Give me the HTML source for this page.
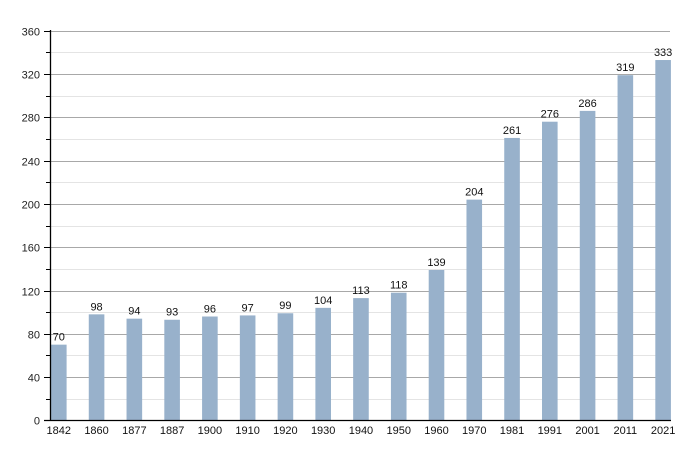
<!DOCTYPE html>
<html><head><meta charset="utf-8"><style>
html,body{margin:0;padding:0;background:#fff;}
svg{display:block;font-family:"Liberation Sans",Arial,sans-serif;}
</style></head><body>
<svg width="700" height="450" viewBox="0 0 700 450" xmlns="http://www.w3.org/2000/svg">
<rect width="700" height="450" fill="#fff"/>
<g stroke="#e4e4e4" stroke-width="1">
<line x1="50" x2="670" y1="399.5" y2="399.5"/>
<line x1="50" x2="670" y1="355.5" y2="355.5"/>
<line x1="50" x2="670" y1="312.5" y2="312.5"/>
<line x1="50" x2="670" y1="269.5" y2="269.5"/>
<line x1="50" x2="670" y1="226.5" y2="226.5"/>
<line x1="50" x2="670" y1="182.5" y2="182.5"/>
<line x1="50" x2="670" y1="139.5" y2="139.5"/>
<line x1="50" x2="670" y1="96.5" y2="96.5"/>
<line x1="50" x2="670" y1="52.5" y2="52.5"/>
</g>
<g stroke="#a8a8a8" stroke-width="1">
<line x1="50" x2="670" y1="377.5" y2="377.5"/>
<line x1="50" x2="670" y1="334.5" y2="334.5"/>
<line x1="50" x2="670" y1="291.5" y2="291.5"/>
<line x1="50" x2="670" y1="247.5" y2="247.5"/>
<line x1="50" x2="670" y1="204.5" y2="204.5"/>
<line x1="50" x2="670" y1="161.5" y2="161.5"/>
<line x1="50" x2="670" y1="117.5" y2="117.5"/>
<line x1="50" x2="670" y1="74.5" y2="74.5"/>
<line x1="50" x2="670" y1="31.5" y2="31.5"/>
</g>
<g stroke="#000" stroke-width="1">
<line x1="46" x2="50" y1="399.5" y2="399.5"/>
<line x1="46" x2="50" y1="355.5" y2="355.5"/>
<line x1="46" x2="50" y1="312.5" y2="312.5"/>
<line x1="46" x2="50" y1="269.5" y2="269.5"/>
<line x1="46" x2="50" y1="226.5" y2="226.5"/>
<line x1="46" x2="50" y1="182.5" y2="182.5"/>
<line x1="46" x2="50" y1="139.5" y2="139.5"/>
<line x1="46" x2="50" y1="96.5" y2="96.5"/>
<line x1="46" x2="50" y1="52.5" y2="52.5"/>
<line x1="44" x2="50" y1="377.5" y2="377.5"/>
<line x1="44" x2="50" y1="334.5" y2="334.5"/>
<line x1="44" x2="50" y1="291.5" y2="291.5"/>
<line x1="44" x2="50" y1="247.5" y2="247.5"/>
<line x1="44" x2="50" y1="204.5" y2="204.5"/>
<line x1="44" x2="50" y1="161.5" y2="161.5"/>
<line x1="44" x2="50" y1="117.5" y2="117.5"/>
<line x1="44" x2="50" y1="74.5" y2="74.5"/>
<line x1="44" x2="50" y1="31.5" y2="31.5"/>
</g>
<g font-size="11" fill="#222" text-anchor="end">
<text x="40" y="424.5">0</text>
<text x="40" y="381.5">40</text>
<text x="40" y="338.5">80</text>
<text x="40" y="295.5">120</text>
<text x="40" y="251.5">160</text>
<text x="40" y="208.5">200</text>
<text x="40" y="165.5">240</text>
<text x="40" y="121.5">280</text>
<text x="40" y="78.5">320</text>
<text x="40" y="35.5">360</text>
</g>
<g fill="#98b1cb">
<rect x="51" y="344.65" width="15.6" height="75.75"/>
<rect x="88.77" y="314.34" width="15.6" height="106.06"/>
<rect x="126.54" y="318.67" width="15.6" height="101.73"/>
<rect x="164.31" y="319.76" width="15.6" height="100.64"/>
<rect x="202.08" y="316.51" width="15.6" height="103.89"/>
<rect x="239.85" y="315.43" width="15.6" height="104.97"/>
<rect x="277.62" y="313.26" width="15.6" height="107.14"/>
<rect x="315.39" y="307.85" width="15.6" height="112.55"/>
<rect x="353.16" y="298.11" width="15.6" height="122.29"/>
<rect x="390.93" y="292.70" width="15.6" height="127.70"/>
<rect x="428.7" y="269.97" width="15.6" height="150.43"/>
<rect x="466.47" y="199.63" width="15.6" height="220.77"/>
<rect x="504.24" y="137.95" width="15.6" height="282.45"/>
<rect x="542.01" y="121.71" width="15.6" height="298.69"/>
<rect x="579.78" y="110.89" width="15.6" height="309.51"/>
<rect x="617.55" y="75.18" width="15.6" height="345.22"/>
<rect x="655.32" y="60.03" width="15.6" height="360.37"/>
</g>
<g font-size="11" fill="#111" text-anchor="middle">
<text x="58.8" y="340.6">70</text>
<text x="96.57" y="310.3">98</text>
<text x="134.34" y="314.6">94</text>
<text x="172.11" y="315.7">93</text>
<text x="209.88" y="312.5">96</text>
<text x="247.65" y="311.4">97</text>
<text x="285.42" y="309.2">99</text>
<text x="323.19" y="303.8">104</text>
<text x="360.96" y="294.1">113</text>
<text x="398.73" y="288.7">118</text>
<text x="436.5" y="266">139</text>
<text x="474.27" y="195.6">204</text>
<text x="512.04" y="134">261</text>
<text x="549.81" y="117.7">276</text>
<text x="587.58" y="106.9">286</text>
<text x="625.35" y="71.2">319</text>
<text x="663.12" y="56">333</text>
</g>
<g font-size="11" fill="#111" text-anchor="middle">
<text x="58.8" y="434">1842</text>
<text x="96.57" y="434">1860</text>
<text x="134.34" y="434">1877</text>
<text x="172.11" y="434">1887</text>
<text x="209.88" y="434">1900</text>
<text x="247.65" y="434">1910</text>
<text x="285.42" y="434">1920</text>
<text x="323.19" y="434">1930</text>
<text x="360.96" y="434">1940</text>
<text x="398.73" y="434">1950</text>
<text x="436.5" y="434">1960</text>
<text x="474.27" y="434">1970</text>
<text x="512.04" y="434">1981</text>
<text x="549.81" y="434">1991</text>
<text x="587.58" y="434">2001</text>
<text x="625.35" y="434">2011</text>
<text x="663.12" y="434">2021</text>
</g>
<line x1="50.5" x2="50.5" y1="30" y2="421" stroke="#000" stroke-width="1.3"/>
<line x1="44" x2="671" y1="420.5" y2="420.5" stroke="#000" stroke-width="1.3"/>
</svg>
</body></html>
